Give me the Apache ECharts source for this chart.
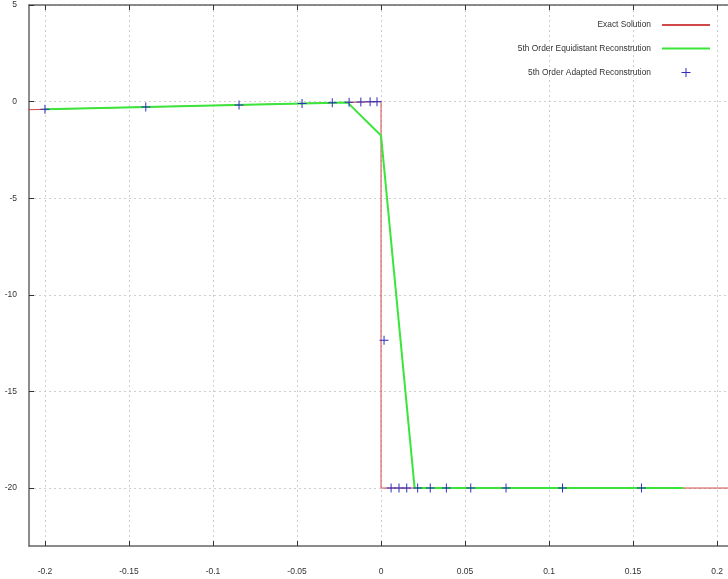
<!DOCTYPE html>
<html lang="en">
<head>
<meta charset="UTF-8">
<title>Reconstruction</title>
<style>
  html, body { margin: 0; padding: 0; background: #fff; }
  #main { width: 728px; height: 579px; }
</style>
</head>
<body>
<div id="main"></div>
<script src="https://cdn.jsdelivr.net/npm/echarts@6/dist/echarts.min.js"></script>
<script>
  // exact solution
  var exactX = [-0.21, 0, 0, 0.21];
  var exactY = [-0.42, 0, -20, -20];

  // 5th order equidistant reconstruction
  var equiX = [-0.2, -0.18, -0.16, -0.14, -0.12, -0.1, -0.08, -0.06, -0.04, -0.02,
               0, 0.02, 0.04, 0.06, 0.08, 0.1, 0.12, 0.14, 0.16, 0.18];
  var equiY = [-0.40, -0.36, -0.32, -0.28, -0.24, -0.20, -0.16, -0.12, -0.08, -0.04,
               -1.75, -20, -20, -20, -20, -20, -20, -20, -20, -20];

  // 5th order adapted reconstruction
  var adaptX = [-0.2, -0.14, -0.0845, -0.047, -0.029, -0.019, -0.012, -0.0065, -0.0024,
                0.0018, 0.006, 0.0107, 0.0153, 0.0218, 0.0293, 0.0389, 0.0534, 0.0744, 0.108, 0.155];
  var adaptY = [-0.40, -0.28, -0.17, -0.094, -0.058, -0.038, -0.024, -0.013, -0.005,
                -12.35, -20, -20, -20, -20, -20, -20, -20, -20, -20, -20];

  var xTicks = [-0.2, -0.15, -0.1, -0.05, 0, 0.05, 0.1, 0.15, 0.2];
  var yTicks = [-20, -15, -10, -5, 0, 5];

  function pairs(xs, ys) {
    return xs.map(function (x, i) { return [x, ys[i]]; });
  }

  var font = '"Liberation Sans", Arial, sans-serif';
  var plus = 'path://M4,0h1v4h4v1h-4v4h-1v-4h-4v-1h4z';
  var axisColor = '#666';
  var tickColor = '#333';
  var gridColor = '#cfcfcf';

  // visible x window: the plot is cut off at the right edge of the picture
  var xMin = -0.2095, xMax = 0.2065;

  var chart = echarts.init(document.getElementById('main'));
  chart.setOption({
    animation: false,
    backgroundColor: '#fff',
    grid: { left: 29, top: 5, right: 0, bottom: 33, containLabel: false },
    legend: {
      orient: 'vertical',
      align: 'right',
      right: 17,
      top: 21,
      padding: 0,
      itemWidth: 48,
      itemHeight: 9,
      itemGap: 15.5,
      textStyle: { fontFamily: font, fontSize: 8.4, color: '#333', padding: [0, 6, 0, 0] },
      data: [
        { name: 'Exact Solution', itemStyle: { opacity: 0 } },
        { name: '5th Order Equidistant Reconstrution', itemStyle: { opacity: 0 } },
        { name: '5th Order Adapted Reconstrution', icon: plus }
      ]
    },
    xAxis: [{
      type: 'value',
      position: 'bottom',
      min: xMin,
      max: xMax,
      axisLine: { onZero: false, lineStyle: { color: axisColor, width: 1.5 } },
      axisTick: { inside: true, length: 5, customValues: xTicks, lineStyle: { color: tickColor } },
      axisLabel: { customValues: xTicks, margin: 21, color: '#333', fontFamily: font, fontSize: 8.5 },
      splitLine: { show: true, lineStyle: { color: gridColor, type: [2, 3] } }
    }, {
      type: 'value',
      position: 'top',
      min: xMin,
      max: xMax,
      axisLine: { onZero: false, lineStyle: { color: axisColor, width: 1.5 } },
      axisTick: { inside: true, length: 5, customValues: xTicks, lineStyle: { color: tickColor } },
      axisLabel: { show: false },
      splitLine: { show: false }
    }],
    yAxis: {
      type: 'value',
      min: -23,
      max: 5,
      axisLine: { show: true, onZero: false, lineStyle: { color: axisColor, width: 1.5 } },
      axisTick: { show: true, inside: true, length: 5, customValues: yTicks, lineStyle: { color: tickColor } },
      axisLabel: { customValues: yTicks, margin: 12, color: '#333', fontFamily: font, fontSize: 8.5 },
      splitLine: { show: true, lineStyle: { color: gridColor, type: [2, 3] } }
    },
    series: [{
      name: 'Exact Solution',
      type: 'line',
      data: pairs(exactX, exactY),
      showSymbol: false,
      symbol: 'none',
      lineStyle: { color: '#d04848', width: 1 },
      itemStyle: { color: '#d04848' },
      z: 2
    }, {
      name: '5th Order Equidistant Reconstrution',
      type: 'line',
      data: pairs(equiX, equiY),
      showSymbol: false,
      symbol: 'none',
      lineStyle: { color: '#3ae63a', width: 2 },
      itemStyle: { color: '#3ae63a' },
      z: 3
    }, {
      name: '5th Order Adapted Reconstrution',
      type: 'scatter',
      data: pairs(adaptX, adaptY),
      symbol: plus,
      symbolSize: 9,
      itemStyle: { color: '#2f2fc0', opacity: 1 },
      z: 4
    }]
  });
</script>
</body>
</html>
